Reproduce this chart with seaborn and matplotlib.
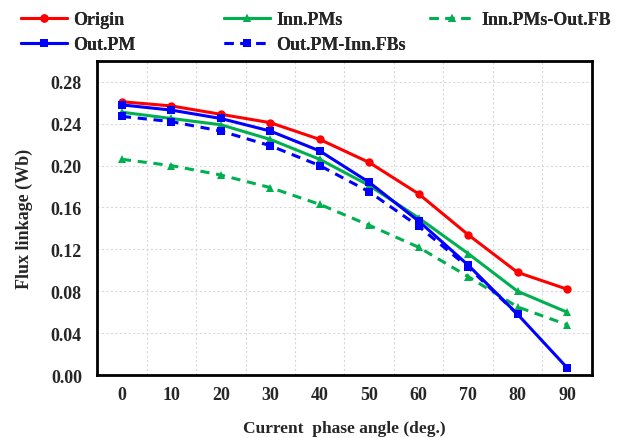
import numpy as np
import pandas as pd
import seaborn as sns
import matplotlib.pyplot as plt
from matplotlib.ticker import FixedLocator

angles = [0, 10, 20, 30, 40, 50, 60, 70, 80, 90]
origin = [0.261, 0.257, 0.249, 0.241, 0.225, 0.203, 0.173, 0.134, 0.098, 0.082]
inn_pms = [0.251, 0.245, 0.239, 0.225, 0.206, 0.181, 0.150, 0.116, 0.080, 0.060]
inn_pms_out_fb = [0.206, 0.200, 0.191, 0.179, 0.163, 0.143, 0.122, 0.094, 0.065, 0.048]
out_pm = [0.258, 0.253, 0.245, 0.233, 0.214, 0.184, 0.147, 0.105, 0.058, 0.007]
out_pm_inn_fbs = [0.247, 0.242, 0.233, 0.219, 0.200, 0.175, 0.142, 0.103, 0.058]

sns.set_style("white")
plt.rcParams['font.family'] = ['Liberation Serif', 'DejaVu Serif']
plt.rcParams['font.weight'] = 'bold'
FS = 13

fig = plt.figure(figsize=(6.19, 4.39), dpi=100)
ax = fig.add_axes([0.157, 0.1435, 0.799, 0.7155])

pos = np.arange(len(angles))
tratto = (0, (3, 2.2))
serie = [
    ("Origin", origin, "#FF0000", "o", 6, "-"),
    ("Inn.PMs", inn_pms, "#00B050", "^", 6, "-"),
    ("Inn.PMs-Out.FB", inn_pms_out_fb, "#00B050", "^", 6, tratto),
    ("Out.PM", out_pm, "#0000FF", "s", 6.2, "-"),
    ("Out.PM-Inn.FBs", out_pm_inn_fbs, "#0000FF", "s", 6.2, tratto),
]
for nome, vals, col, mk, ms, ls in serie:
    sns.lineplot(x=pos[:len(vals)], y=vals, ax=ax, color=col, marker=mk,
                 markersize=ms, markeredgewidth=0, linewidth=2.2,
                 linestyle=ls, label=nome)

# Asse x a categorie (stile Excel)
ax.set_xlim(-0.5, 9.5)
ax.xaxis.set_major_locator(FixedLocator(pos))
ax.set_xticklabels([str(a) for a in angles])
ax.xaxis.set_minor_locator(FixedLocator(pos[:-1] + 0.5))
ax.set_ylim(0, 0.30)
ax.set_yticks(np.arange(0, 0.281, 0.04))
ax.yaxis.set_major_formatter(plt.FuncFormatter(lambda v, p: f"{v:.2f}"))

ax.grid(False)
ax.grid(which='minor', axis='x', color='#D9D9D9', linestyle=(0, (2, 2)), linewidth=0.8)
ax.grid(which='major', axis='y', color='#D9D9D9', linestyle=(0, (2, 2)), linewidth=0.8)
ax.tick_params(which='both', length=0, labelsize=FS)
ax.tick_params(axis='x', pad=8)
ax.tick_params(axis='y', pad=11)
for lab in ax.get_xticklabels() + ax.get_yticklabels():
    lab.set_fontweight('bold')
for s in ax.spines.values():
    s.set_color('black')
    s.set_linewidth(2)

ax.set_xlabel("Current  phase angle (deg.)", fontsize=12.5, fontweight='bold', labelpad=12)
ax.set_ylabel("Flux linkage (Wb)", fontsize=FS, fontweight='bold', labelpad=13)

# Legenda sopra il grafico: tre colonne posizionate come in Excel
h, l = ax.get_legend_handles_labels()
ax.legend_.remove()
colonne = [([0, 3], 0.034), ([1, 4], 0.362), ([2], 0.693)]
for idx, x0 in colonne:
    leg = fig.legend([h[i] for i in idx], [l[i] for i in idx], ncol=1,
                     loc='upper left', bbox_to_anchor=(x0, 0.973), frameon=False,
                     prop={'size': FS, 'weight': 'bold'}, handlelength=2.55,
                     labelspacing=0.45, handletextpad=0.33,
                     borderpad=0, borderaxespad=0)
    fig.add_artist(leg)

plt.savefig("out.png", dpi=100)
